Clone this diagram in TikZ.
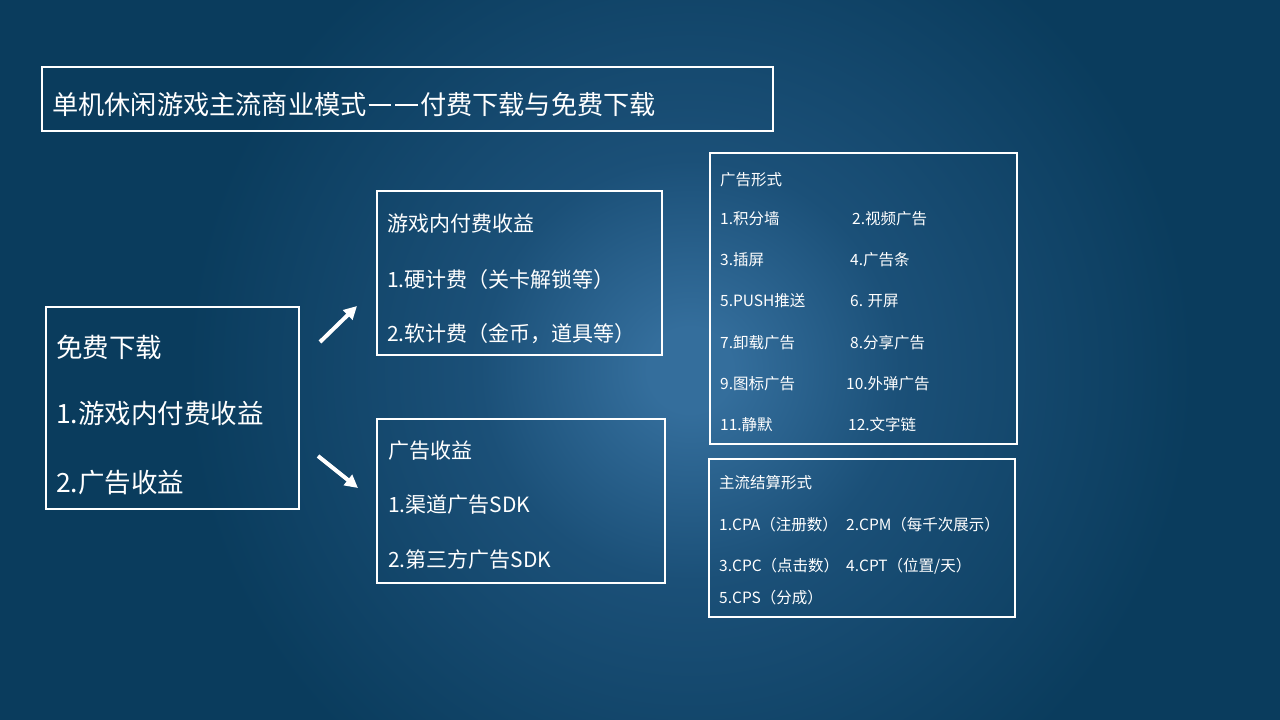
\documentclass[tikz,border=0pt]{standalone}
\usepackage{fontspec}
\setmainfont{Noto Sans CJK SC}
\usetikzlibrary{arrows.meta}
\definecolor{edgec}{HTML}{0A3C5D}
\definecolor{midc}{HTML}{1B5078}
\definecolor{glowc}{HTML}{346E9C}
\pgfdeclareradialshading{slideglow}{\pgfpoint{0bp}{0bp}}{color(0bp)=(glowc); color(1.5bp)=(glowc); color(7.5bp)=(midc); color(18bp)=(edgec); color(50bp)=(edgec)}
\newcommand{\cjkdash}{\hspace{0.08em}\rule[0.36em]{0.86em}{0.06em}\hspace{0.08em}}

\begin{document}
\begin{tikzpicture}[
    x=1pt, y=-1pt,
    box/.style={draw=white, line width=2pt, inner sep=0pt},
    titletxt/.style={text=white, anchor=west, inner sep=0pt, font=\fontsize{26.2}{30}\selectfont},
    bigtxt/.style={text=white, anchor=west, inner sep=0pt, font=\fontsize{26.5}{30}\selectfont},
    midtxt/.style={text=white, anchor=west, inner sep=0pt, font=\fontsize{21}{24}\selectfont},
    smalltxt/.style={text=white, anchor=west, inner sep=0pt, font=\fontsize{15.5}{19}\selectfont},
    bigarrow/.style={draw=white, line width=4pt, -{Triangle[length=13pt,width=13pt]}},
    ]
    %Background
    \useasboundingbox (0,0) rectangle (1280,720);
    \begin{scope}
    \clip (0,0) rectangle (1280,720);
    \fill[edgec] (0,0) rectangle (1280,720);
    \shade[shading=slideglow] (690,370) circle (700);
    \end{scope}

    %Boxes
    \node[box, minimum width=731, minimum height=64] (title) at (407.5,99) {};
    \node[box, minimum width=253, minimum height=202] (free) at (172.5,408) {};
    \node[box, minimum width=285, minimum height=164] (pay) at (519.5,273) {};
    \node[box, minimum width=288, minimum height=164] (ads) at (521,501) {};
    \node[box, minimum width=307, minimum height=291] (forms) at (863.5,298.5) {};
    \node[box, minimum width=306, minimum height=158] (settle) at (862,538) {};

    %Texts
    \node[titletxt] (titlet) at (52,105) {单机休闲游戏主流商业模式\cjkdash\cjkdash 付费下载与免费下载};

    \node[bigtxt] (free0) at (56,347) {免费下载};
    \node[bigtxt] (free1) at (56,413) {1.游戏内付费收益};
    \node[bigtxt] (free2) at (56,483) {2.广告收益};

    \node[midtxt] (pay0) at (387,224) {游戏内付费收益};
    \node[midtxt] (pay1) at (387,280) {1.硬计费（关卡解锁等）};
    \node[midtxt] (pay2) at (387,334) {2.软计费（金币，道具等）};

    \node[midtxt] (ads0) at (388,451) {广告收益};
    \node[midtxt] (ads1) at (388,505) {1.渠道广告SDK};
    \node[midtxt] (ads2) at (388,560) {2.第三方广告SDK};

    \node[smalltxt] (forms0) at (720,180) {广告形式};
    \node[smalltxt] (f1) at (720,219) {1.积分墙};
    \node[smalltxt] (f2) at (852,219) {2.视频广告};
    \node[smalltxt] (f3) at (720,260) {3.插屏};
    \node[smalltxt] (f4) at (850,260) {4.广告条};
    \node[smalltxt] (f5) at (720,301) {5.PUSH推送};
    \node[smalltxt] (f6) at (850,301) {6. 开屏};
    \node[smalltxt] (f7) at (720,343) {7.卸载广告};
    \node[smalltxt] (f8) at (850,343) {8.分享广告};
    \node[smalltxt] (f9) at (720,384) {9.图标广告};
    \node[smalltxt] (f10) at (846,384) {10.外弹广告};
    \node[smalltxt] (f11) at (720,425) {11.静默};
    \node[smalltxt] (f12) at (848,425) {12.文字链};

    \node[smalltxt] (settle0) at (719,483) {主流结算形式};
    \node[smalltxt] (s1) at (719,525) {1.CPA（注册数）};
    \node[smalltxt] (s2) at (846,525) {2.CPM（每千次展示）};
    \node[smalltxt] (s3) at (719,566) {3.CPC（点击数）};
    \node[smalltxt] (s4) at (846,566) {4.CPT（位置/天）};
    \node[smalltxt] (s5) at (719,598) {5.CPS（分成）};

    %Arrows
    \coordinate (upa) at (320,342);
    \coordinate (upb) at (357,306);
    \coordinate (dna) at (318,456);
    \coordinate (dnb) at (358,488);
    \draw[bigarrow] (upa) -- (upb);
    \draw[bigarrow] (dna) -- (dnb);
\end{tikzpicture}
\end{document}
